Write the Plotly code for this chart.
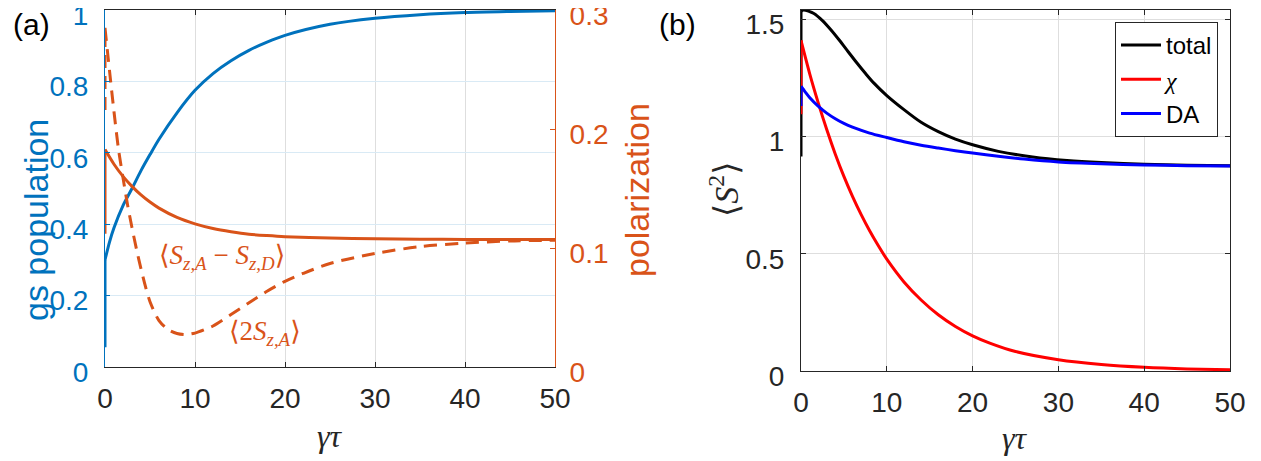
import plotly.graph_objects as go

# ---------------- data ----------------
x_ticks = [0, 10, 20, 30, 40, 50]

# panel (a): ground-state population (left axis)
t_gs = [0, 0.5, 1, 2, 3, 4, 5, 6, 8, 10, 12, 14, 16, 18, 20, 25, 30, 35, 40, 45, 50]
gs_pop = [0.30, 0.35, 0.39, 0.452, 0.50, 0.55, 0.595, 0.638, 0.712, 0.775, 0.822,
          0.858, 0.887, 0.91, 0.929, 0.96, 0.977, 0.987, 0.993, 0.996, 0.998]
gs_start = 0.055

# panel (a): <S_zA - S_zD> (right axis)
t_diff = [0, 1, 2, 3, 4, 5, 6, 8, 10, 12, 14, 16, 18, 20, 25, 30, 35, 40, 45, 50]
pol_diff = [0.1827, 0.1704, 0.1602, 0.1518, 0.1446, 0.1386, 0.1335, 0.1257, 0.1203,
            0.1164, 0.1137, 0.1116, 0.1104, 0.1095, 0.1083, 0.1077, 0.1074, 0.1072,
            0.1071, 0.1071]
diff_start = 0.112

# panel (a): <2 S_zA> (right axis)
t_2sz = [0, 0.5, 1, 1.5, 2, 2.5, 3, 3.5, 4, 4.5, 5, 6, 7, 8, 9, 10, 11, 12, 14, 16,
         18, 20, 22, 25, 30, 35, 40, 45, 50]
pol_2sz = [0.285, 0.249, 0.2145, 0.183, 0.159, 0.1365, 0.117, 0.099, 0.0825, 0.0675,
           0.0549, 0.039, 0.0315, 0.0282, 0.0273, 0.0285, 0.0312, 0.0345, 0.0441,
           0.054, 0.0636, 0.072, 0.0786, 0.087, 0.0954, 0.1011, 0.1041, 0.1059, 0.1065]
sz_start = 0.216

# panel (b): <S^2>
t_tot = [0, 0.3, 1.5, 2.5, 3.5, 4.5, 5.5, 6.5, 7.5, 8.5, 10, 12, 14, 16, 18, 20, 23,
         27, 31, 35, 40, 45, 50]
s2_total = [1.535, 1.54, 1.525, 1.495, 1.455, 1.41, 1.362, 1.315, 1.27, 1.228, 1.175,
            1.115, 1.061, 1.021, 0.989, 0.965, 0.937, 0.913, 0.898, 0.889, 0.882,
            0.878, 0.876]
total_start = 0.915

t_chi = [0, 1, 2, 3, 4, 5, 6, 7, 8, 9, 10, 12, 14, 16, 18, 20, 22, 25, 30, 35, 40, 45, 50]
s2_chi = [1.41, 1.27, 1.145, 1.03, 0.925, 0.83, 0.745, 0.668, 0.598, 0.535, 0.477, 0.38,
          0.303, 0.24, 0.19, 0.15, 0.119, 0.083, 0.048, 0.028, 0.016, 0.009, 0.005]
chi_start = 1.095

t_da = [0, 0.5, 1, 2, 3, 4, 5, 6, 8, 10, 12, 14, 16, 18, 20, 23, 26, 30, 35, 40, 45, 50]
s2_da = [1.215, 1.19, 1.167, 1.13, 1.10, 1.076, 1.056, 1.04, 1.015, 0.996, 0.978, 0.963,
         0.951, 0.94, 0.93, 0.916, 0.904, 0.892, 0.884, 0.879, 0.876, 0.875]
da_start = 1.13

# ---------------- styling ----------------
BLUE = "#0072BD"
ORANGE = "#D95319"
AXC = "#262626"
W, H = 1261, 461
OFF = 8  # default page margin around the plot div
SANS = "Liberation Sans, Arial, sans-serif"
SERIF = "Liberation Serif, DejaVu Serif, serif"
TICKF = dict(family=SANS, size=28)

def px(x):
    return (x - OFF) / W

def py(y):
    return 1 - (y - OFF) / H

fig = go.Figure()
LW = 3
SM = dict(shape="spline", smoothing=0.8)
DASH = "13px,8px"

# panel (a)
fig.add_trace(go.Scatter(x=[t_gs[0], t_gs[0]], y=[gs_start, gs_pop[0]], mode="lines",
                         line=dict(color=BLUE, width=LW), xaxis="x", yaxis="y", showlegend=False))
fig.add_trace(go.Scatter(x=t_gs, y=gs_pop, mode="lines", line=dict(color=BLUE, width=LW, **SM),
                         xaxis="x", yaxis="y", showlegend=False))
fig.add_trace(go.Scatter(x=[t_diff[0], t_diff[0]], y=[diff_start, pol_diff[0]], mode="lines",
                         line=dict(color=ORANGE, width=LW), xaxis="x", yaxis="y2", showlegend=False))
fig.add_trace(go.Scatter(x=t_diff, y=pol_diff, mode="lines", line=dict(color=ORANGE, width=LW, **SM),
                         xaxis="x", yaxis="y2", showlegend=False))
fig.add_trace(go.Scatter(x=[t_2sz[0], t_2sz[0]], y=[sz_start, pol_2sz[0]], mode="lines",
                         line=dict(color=ORANGE, width=LW, dash=DASH), xaxis="x", yaxis="y2", showlegend=False))
fig.add_trace(go.Scatter(x=t_2sz, y=pol_2sz, mode="lines",
                         line=dict(color=ORANGE, width=LW, dash=DASH, **SM),
                         xaxis="x", yaxis="y2", showlegend=False))

# panel (b)
series_b = [
    (t_tot, s2_total, total_start, "black", "total"),
    (t_chi, s2_chi, chi_start, "#FF0000", "<span style='font-family:Liberation Serif'><i>χ</i></span>"),
    (t_da, s2_da, da_start, "#0000FF", "DA"),
]
for tt, vv, st, col, name in series_b:
    fig.add_trace(go.Scatter(x=[tt[0], tt[0]], y=[st, vv[0]], mode="lines",
                             line=dict(color=col, width=LW), xaxis="x2", yaxis="y3", showlegend=False))
for tt, vv, st, col, name in series_b:
    fig.add_trace(go.Scatter(x=tt, y=vv, mode="lines", name=name,
                             line=dict(color=col, width=LW, **SM),
                             xaxis="x2", yaxis="y3", showlegend=True))

common_x = dict(range=[0, 50], tickvals=x_ticks, ticks="inside", ticklen=5, showline=True,
                linecolor=AXC, linewidth=1, mirror="ticks", zeroline=False, showgrid=True,
                gridcolor="#DEDEDE", gridwidth=1, tickfont=dict(color=AXC, **TICKF),
                ticklabelstandoff=6, tickcolor=AXC, automargin=False,
                ticklabeloverflow="allow")

fig.update_layout(
    width=W, height=H, margin=dict(l=0, r=0, t=0, b=0, autoexpand=False),
    paper_bgcolor="white", plot_bgcolor="white",
    showlegend=True,
    xaxis=dict(domain=[px(105), px(555)], anchor="y", **common_x),
    yaxis=dict(domain=[py(367), py(10)], range=[0, 1], dtick=0.2, ticks="inside", ticklen=5,
               showline=True, linecolor=BLUE, linewidth=1, zeroline=False, showgrid=True,
               gridcolor="#D9EAF5", tickfont=dict(color=BLUE, **TICKF), tickcolor=BLUE,
               anchor="x", ticklabelstandoff=10, automargin=False, ticklabeloverflow="allow",
               ticklabelshift=5),
    yaxis2=dict(range=[0, 0.3], dtick=0.1, overlaying="y", side="right", anchor="x",
                ticks="inside", ticklen=5, showline=True, linecolor=ORANGE, linewidth=1,
                zeroline=False, showgrid=False, tickfont=dict(color=ORANGE, **TICKF),
                tickcolor=ORANGE, ticklabelstandoff=8, automargin=False,
                ticklabeloverflow="allow", ticklabelshift=5),
    xaxis2=dict(domain=[px(801), px(1230)], anchor="y3", **common_x),
    yaxis3=dict(domain=[py(371), py(10)], range=[0, 1.54], tickvals=[0, 0.5, 1, 1.5],
                ticks="inside", ticklen=5, showline=True, linecolor=AXC, linewidth=1,
                mirror="ticks", zeroline=False, showgrid=True, gridcolor="#DEDEDE",
                tickfont=dict(color=AXC, **TICKF), tickcolor=AXC, anchor="x2",
                ticklabelstandoff=10, automargin=False, ticklabeloverflow="allow",
                ticklabelshift=5),
    legend=dict(x=px(1218), y=py(22), xanchor="right", yanchor="top",
                bgcolor="white", bordercolor=AXC, borderwidth=1,
                font=dict(family=SANS, size=24, color="black"), itemwidth=40,
                tracegroupgap=0),
)

ann = [
    dict(text="(a)", x=px(11), y=py(24), xanchor="left",
         font=dict(family=SANS, size=30, color="black")),
    dict(text="(b)", x=px(657), y=py(24), xanchor="left",
         font=dict(family=SANS, size=30, color="black")),
    dict(text="gs population", x=px(36), y=py(220), textangle=-90,
         font=dict(family=SANS, size=34, color=BLUE)),
    dict(text="polarization", x=px(637), y=py(190), textangle=-90,
         font=dict(family=SANS, size=34, color=ORANGE)),
    dict(text="<i>γτ</i>", x=px(330), y=py(436), font=dict(family=SERIF, size=32, color=AXC)),
    dict(text="<i>γτ</i>", x=px(1015), y=py(438), font=dict(family=SERIF, size=32, color=AXC)),
    dict(text="⟨<i>S</i><sup>2</sup>⟩", x=px(724), y=py(190), textangle=-90,
         font=dict(family=SERIF, size=34, color=AXC)),
    dict(text="⟨<i>S</i><sub><i>z,A</i></sub> − <i>S</i><sub><i>z,D</i></sub>⟩",
         x=px(222), y=py(257), font=dict(family=SERIF, size=27, color=ORANGE)),
    dict(text="⟨2<i>S</i><sub><i>z,A</i></sub>⟩",
         x=px(265), y=py(333), font=dict(family=SERIF, size=27, color=ORANGE)),
]
for a in ann:
    a.setdefault("xanchor", "center")
    a.update(xref="paper", yref="paper", showarrow=False, yanchor="middle")
fig.update_layout(annotations=ann)

fig.write_html("out.html")
